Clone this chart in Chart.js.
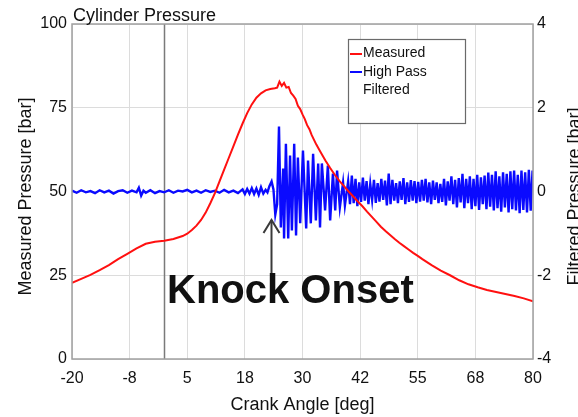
<!DOCTYPE html>
<html><head><meta charset="utf-8">
<script src="https://cdn.jsdelivr.net/npm/chart.js@4.4.0/dist/chart.umd.min.js"></script>
<style>html,body{margin:0;padding:0;background:#fff;overflow:hidden}</style>
</head><body>
<canvas id="c" width="578" height="417" style="display:block;width:578px;height:417px"></canvas>
<script>
const chartTitle = 'Cylinder Pressure';
const xTitle = 'Crank Angle [deg]';
const yLeftTitle = 'Measured Pressure [bar]';
const yRightTitle = 'Filtered Pressure [bar]';
const annotationText = 'Knock Onset';
const legendLabels = ['Measured', 'High Pass', 'Filtered'];
const xTickLabels = ['-20','-8','5','18','30','42','55','68','80'];
const knockAngle = 23.2;

// Measured cylinder pressure [bar] vs crank angle [deg]
const measured = [
 [-20,22.7],[-18,23.9],[-16,25.1],[-14,26.5],[-12,28.0],[-10,29.8],[-8,31.4],[-6,33.0],[-4,34.4],[-2,35.0],
 [0,35.3],[2,35.8],[4,36.7],[5,37.4],[6,38.5],[7,39.8],[8,41.5],[9,43.7],[10,46.5],[11,49.5],
 [12,53.0],[13,56.5],[14,60.0],[15,63.5],[16,67.0],[17,70.3],[18,73.4],[19,76.0],[20,78.0],[21,79.3],
 [22,80.2],[23,80.6],[24,80.8],[24.5,81.0],[25,82.8],[25.5,81.5],[26,82.4],[26.5,81.0],[27,81.2],[27.5,79.4],
 [28,78.6],[28.5,77.6],[29,75.6],[29.5,74.6],[30,73.0],[30.5,71.6],[31,69.8],[31.5,68.6],[32,66.8],[33,64.0],
 [34,61.6],[35,59.2],[36,57.0],[37,55.0],[38,53.2],[39,51.6],[40,50.0],[41,48.5],[42,47.0],[43,45.6],
 [44,44.0],[45,42.5],[46,41.0],[47,39.5],[48,38.2],[49,37.0],[50,35.8],[51,34.7],[52,33.7],[53,32.7],
 [54,31.7],[55,30.8],[56,29.8],[57,28.9],[58,28.0],[59,27.2],[60,26.4],[62,25.0],[64,23.5],[66,22.3],
 [68,21.4],[70,20.6],[72,20.0],[74,19.4],[76,18.8],[78,18.1],[80,17.2]
];

// High-pass filtered pressure [bar] vs crank angle [deg]
const filtered = [
 [-20,0.02],[-19,-0.03],[-18,0.03],[-17,-0.02],[-16,0.01],[-15,-0.04],[-14,0.03],[-13,-0.02],[-12,0.02],[-11,-0.05],
 [-10,0.01],[-9,0.03],[-8,-0.03],[-7,0.02],[-6,-0.02],[-5.5,0.09],[-5,-0.10],[-4.5,0.02],[-4,-0.03],[-3,0.03],
 [-2,-0.04],[-1,0.01],[0,-0.02],[1,0.03],[2,-0.03],[3,0.02],[4,0.00],[5,0.04],[6,-0.02],[7,0.02],
 [8,-0.03],[9,0.03],[10,-0.01],[11,0.02],[12,-0.03],[13,0.04],[14,-0.02],[15,0.02],[16,-0.04],[17,0.05],
 [17.5,-0.06],[18,0.06],[18.5,-0.05],[19,0.08],[19.5,-0.06],[20,0.07],[20.5,-0.08],[21,0.10],[21.5,-0.05],[22,0.04],
 [22.4,-0.02],[22.8,0.12],[23.3,0.24],[23.7,0.05],[24.1,-0.55],[24.5,-0.30],[24.9,1.55],[25.3,-0.86],[25.8,0.55],[26.0,-1.12],
 [26.4,1.14],[26.9,-1.12],[27.3,0.86],[27.7,-0.93],[28.2,1.14],[28.6,-1.05],[29.0,0.81],[29.5,-0.76],[30.1,0.98],[30.8,-0.88],
 [31.2,0.74],[31.8,-0.76],[32.3,0.90],[32.9,-0.69],[33.4,0.67],[33.8,-0.86],[34.2,0.67],[34.9,-0.45],[35.5,0.62],[36.0,-0.69],
 [36.6,0.43],[37.1,-0.45],[37.5,0.50],[38.1,-0.38],[38.8,0.21],[39.2,-0.33],[39.9,0.24],[40.3,-0.30],[40.7,0.38],[41.1,-0.28],
 [41.5,0.30],[41.9,-0.35],[42.3,0.22],[42.7,-0.25],[43.1,0.33],[43.5,-0.22],[43.9,0.25],[44.3,-0.30],[44.7,0.18],[45.1,-0.20],
 [45.5,0.28],[45.9,-0.27],[46.3,0.20],[46.7,-0.24],[47.1,0.30],[47.5,-0.20],[47.9,0.26],[48.3,-0.33],[48.7,0.43],[49.1,-0.30],
 [49.5,0.28],[49.9,-0.22],[50.3,0.20],[50.7,-0.28],[51.1,0.24],[51.5,-0.20],[51.9,0.32],[52.3,-0.30],[52.7,0.22],[53.1,-0.25],
 [53.5,0.27],[53.9,-0.22],[54.3,0.25],[54.7,-0.28],[55.1,0.23],[55.5,-0.24],[55.9,0.28],[56.3,-0.22],[56.7,0.30],[57.1,-0.26],
 [57.5,0.22],[57.9,-0.30],[58.3,0.26],[58.7,-0.20],[59.1,0.22],[59.5,-0.28],[59.9,0.18],[60.3,-0.25],[60.7,0.30],[61.1,-0.33],
 [61.5,0.24],[61.9,-0.22],[62.3,0.36],[62.7,-0.30],[63.1,0.28],[63.5,-0.38],[63.9,0.32],[64.3,-0.26],[64.7,0.42],[65.1,-0.40],
 [65.5,0.30],[65.9,-0.28],[66.3,0.36],[66.7,-0.42],[67.1,0.30],[67.5,-0.35],[67.9,0.40],[68.3,-0.44],[68.7,0.34],[69.1,-0.30],
 [69.5,0.38],[69.9,-0.42],[70.3,0.45],[70.7,-0.36],[71.1,0.40],[71.5,-0.45],[71.9,0.48],[72.3,-0.40],[72.7,0.36],[73.1,-0.48],
 [73.5,0.46],[73.9,-0.38],[74.3,0.42],[74.7,-0.50],[75.1,0.48],[75.5,-0.42],[75.9,0.50],[76.3,-0.45],[76.7,0.40],[77.1,-0.52],
 [77.5,0.50],[77.9,-0.44],[78.3,0.46],[78.7,-0.50],[79.1,0.52],[79.5,-0.46],[79.9,0.50]
];

const FONT = '"Liberation Sans", Arial, Helvetica, sans-serif';
const RED = '#ff1010', BLUE = '#0a0aff';

const decor = {
  id: 'decor',
  beforeDatasetsDraw(chart) {
    const {ctx, chartArea: a, scales: {x}} = chart;
    ctx.save();
    const x0 = Math.round(x.getPixelForValue(0)) + 0.5;
    ctx.strokeStyle = '#7a7a7a'; ctx.lineWidth = 1.5;
    ctx.beginPath(); ctx.moveTo(x0, a.top); ctx.lineTo(x0, a.bottom); ctx.stroke();
    ctx.restore();
  },
  afterDatasetsDraw(chart) {
    const {ctx, chartArea: a, scales: {x}} = chart;
    ctx.save();
    // frame
    ctx.strokeStyle = '#a0a0a0'; ctx.lineWidth = 1.5;
    ctx.strokeRect(a.left, a.top, a.right - a.left, a.bottom - a.top);
    // title
    ctx.fillStyle = '#111'; ctx.font = '18px ' + FONT;
    ctx.textAlign = 'left'; ctx.textBaseline = 'alphabetic';
    ctx.fillText(chartTitle, a.left + 1, a.top - 3);
    // vertical axis titles (both read bottom to top)
    const midY = (a.top + a.bottom) / 2 + 5;
    ctx.textAlign = 'center'; ctx.textBaseline = 'middle';
    ctx.save();
    ctx.translate(26, midY); ctx.rotate(-Math.PI / 2);
    ctx.fillText(yLeftTitle, 0, 0);
    ctx.restore();
    ctx.save();
    ctx.translate(chart.width - 3, midY); ctx.rotate(-Math.PI / 2);
    ctx.fillText(yRightTitle, 0, 0);
    ctx.restore();
    // legend box
    const lx = a.left + 276, ly = a.top + 15, lw = 117, lh = 84;
    ctx.fillStyle = '#fff'; ctx.fillRect(lx, ly, lw, lh);
    ctx.strokeStyle = '#6a6a6a'; ctx.lineWidth = 1.2;
    ctx.strokeRect(lx + 0.5, ly + 0.5, lw, lh);
    ctx.font = '14px ' + FONT; ctx.fillStyle = '#111';
    ctx.textAlign = 'left'; ctx.textBaseline = 'middle';
    const ds = chart.data.datasets;
    ctx.lineWidth = 2;
    ctx.strokeStyle = ds[0].borderColor;
    ctx.beginPath(); ctx.moveTo(lx + 2, ly + 15); ctx.lineTo(lx + 14, ly + 15); ctx.stroke();
    ctx.fillText(legendLabels[0], lx + 15, ly + 14);
    ctx.strokeStyle = ds[1].borderColor;
    ctx.beginPath(); ctx.moveTo(lx + 2, ly + 33); ctx.lineTo(lx + 14, ly + 33); ctx.stroke();
    ctx.fillText(legendLabels[1], lx + 15, ly + 33);
    ctx.fillText(legendLabels[2], lx + 15, ly + 51);
    // knock onset annotation
    const ax = Math.round(x.getPixelForValue(knockAngle)) + 0.5;
    ctx.strokeStyle = '#3a3a3a'; ctx.lineWidth = 2;
    ctx.beginPath(); ctx.moveTo(ax, a.top + 256); ctx.lineTo(ax, a.top + 196); ctx.stroke();
    ctx.beginPath(); ctx.moveTo(ax - 8, a.top + 209); ctx.lineTo(ax, a.top + 196); ctx.lineTo(ax + 8, a.top + 209); ctx.stroke();
    ctx.font = 'bold 40px ' + FONT; ctx.fillStyle = '#111';
    ctx.textAlign = 'left'; ctx.textBaseline = 'alphabetic';
    ctx.fillText(annotationText, 167, a.top + 279);
    ctx.restore();
  }
};

const toPts = arr => arr.map(p => ({x: p[0], y: p[1]}));

new Chart(document.getElementById('c'), {
  type: 'line',
  data: {
    datasets: [
      { label: 'Measured', data: toPts(measured), yAxisID: 'y', borderColor: RED, borderWidth: 2, pointRadius: 0, tension: 0, fill: false },
      { label: 'High Pass Filtered', data: toPts(filtered), yAxisID: 'y2', borderColor: BLUE, borderWidth: 2.4, pointRadius: 0, tension: 0, fill: false }
    ]
  },
  options: {
    responsive: false, animation: false, devicePixelRatio: 1,
    layout: { padding: { top: 24, left: 0, right: 0, bottom: 0 } },
    plugins: { legend: { display: false }, tooltip: { enabled: false }, title: { display: false } },
    scales: {
      x: {
        type: 'linear', min: -20, max: 80,
        afterFit: s => { s.height = 58; },
        ticks: { stepSize: 12.5, autoSkip: false, maxRotation: 0, padding: 10, color: '#111',
                 font: { family: FONT, size: 16 },
                 callback: (v, i) => xTickLabels[i] },
        grid: { color: '#dcdcdc', lineWidth: 1, drawTicks: false },
        border: { display: false },
        title: { display: true, text: xTitle, color: '#111', font: { family: FONT, size: 18 }, padding: { top: 0, bottom: 1 } }
      },
      y: {
        type: 'linear', position: 'left', min: 0, max: 100,
        afterFit: s => { s.width = 72; },
        ticks: { stepSize: 25, padding: 5, color: '#111', font: { family: FONT, size: 16 } },
        grid: { color: '#dcdcdc', lineWidth: 1, drawTicks: false },
        border: { display: false }
      },
      y2: {
        type: 'linear', position: 'right', min: -4, max: 4,
        afterFit: s => { s.width = 45; },
        ticks: { stepSize: 2, padding: 4, color: '#111', font: { family: FONT, size: 16 } },
        grid: { drawOnChartArea: false, drawTicks: false },
        border: { display: false }
      }
    }
  },
  plugins: [decor]
});
</script>
</body></html>
